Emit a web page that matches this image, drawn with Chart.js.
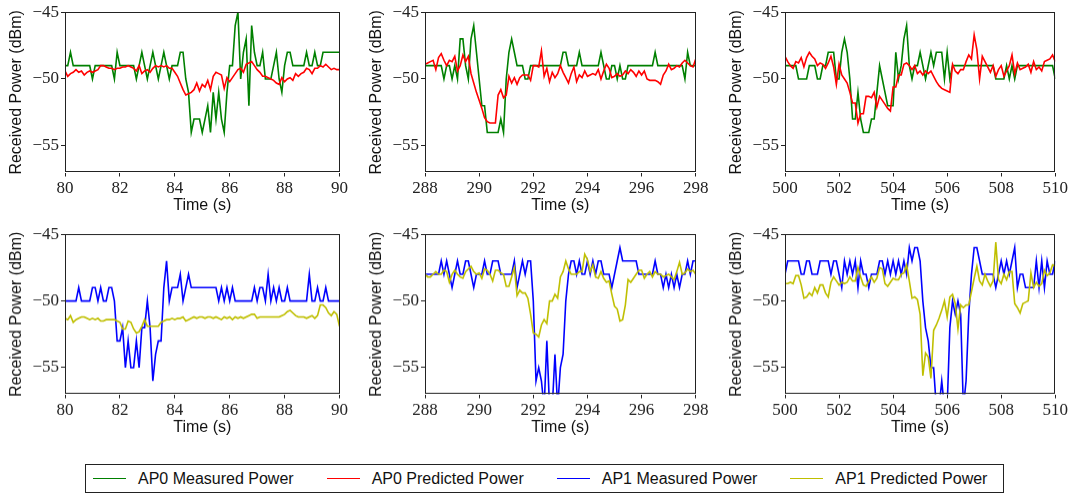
<!DOCTYPE html>
<html>
<head>
<meta charset="utf-8">
<script src="https://cdn.jsdelivr.net/npm/chart.js@4.4.1/dist/chart.umd.min.js"></script>
<style>
  html,body{margin:0;padding:0;background:#fff;}
  body{width:1075px;height:496px;position:relative;overflow:hidden;}
  .panel{position:absolute;}
  #legend{position:absolute;left:85px;top:464px;width:910px;height:27px;border:1px solid #222;
    display:flex;align-items:center;padding-left:7px;column-gap:33px;box-sizing:content-box;
    font-family:"Liberation Sans",Arial,sans-serif;font-size:16px;color:#111;}
  #legend .item{display:flex;align-items:center;}
  #legend .swatch{width:33px;height:0;border-top:1.5px solid;margin-right:12px;}
</style>
</head>
<body>
<div class="panel" id="p1"><canvas id="c1"></canvas></div>
<div class="panel" id="p2"><canvas id="c2"></canvas></div>
<div class="panel" id="p3"><canvas id="c3"></canvas></div>
<div class="panel" id="p4"><canvas id="c4"></canvas></div>
<div class="panel" id="p5"><canvas id="c5"></canvas></div>
<div class="panel" id="p6"><canvas id="c6"></canvas></div>
<div id="legend"></div>
<script>
/* ---------- data (0.1 s samples) ---------- */
const seriesNames = ['AP0 Measured Power','AP0 Predicted Power','AP1 Measured Power','AP1 Predicted Power'];
const seriesColors = ['#008000','#ff0000','#0000ff','#bfbf00'];
const yTicks = [-55,-50,-45];
const windowStarts = [80, 288, 500];   // seconds, each window is 10 s long

// top row: AP0
const ap0Meas80 = [-49,-49,-48,-49,-49,-49,-49,-49,-49,-49,
  -50,-49,-49,-49,-49,-49,-49,-49,-50,-48,
  -49,-49,-49,-49,-49,-49,-50,-49,-48,-49,
  -50,-49,-48,-49,-50,-49,-48,-49,-50,-49,
  -49,-49,-48,-48,-50,-51,-54,-53,-53,-53,
  -54,-53,-52,-54,-51,-53,-51,-53,-54,-51,
  -49,-49,-46,-45,-50,-48,-47,-52,-46,-48,
  -49,-49,-48,-50,-50,-50,-49,-48,-50,-51,
  -49,-48,-48,-49,-49,-49,-49,-49,-48,-49,
  -49,-48,-49,-49,-48,-48,-48,-48,-48,-48,-48];
const ap0Pred80 = [-49.4,-49.8,-49.6,-49.5,-49.3,-49.5,-49.4,-49.7,-49.5,-49.4,
  -49.5,-49.4,-49.3,-49.0,-49.0,-49.1,-49.2,-49.2,-49.3,-49.2,
  -49.2,-49.1,-49.1,-49.0,-49.1,-49.2,-49.4,-49.0,-49.6,-49.4,
  -49.3,-49.5,-49.2,-49.0,-49.1,-49.0,-49.1,-49.0,-49.2,-49.2,
  -49.5,-49.8,-50.3,-50.8,-51.2,-51.1,-51.0,-50.8,-50.3,-50.9,
  -50.4,-50.6,-50.1,-50.8,-49.8,-49.5,-49.6,-49.7,-50.7,-49.9,
  -50.2,-49.9,-49.6,-49.3,-49.2,-49.5,-48.9,-48.8,-48.7,-49.0,
  -49.3,-49.5,-49.8,-49.8,-49.9,-50.0,-50.1,-50.3,-50.4,-49.9,
  -50.2,-50.0,-49.9,-50.1,-49.6,-49.8,-49.6,-49.5,-49.2,-49.3,
  -49.6,-49.2,-49.2,-49.0,-49.1,-48.9,-49.1,-49.3,-49.2,-49.3,-49.3];

const ap0Meas288 = [-49,-49,-49,-49,-49,-49,-49,-50,-49,-49,
  -50,-49,-50,-47,-47,-49,-50,-47,-46,-48,
  -50,-52,-52,-54,-54,-54,-54,-54,-53,-54,
  -50,-48,-47,-48,-49,-49,-49,-50,-50,-49,
  -49,-49,-49,-49,-49,-49,-49,-49,-49,-49,
  -49,-48,-48,-49,-49,-49,-49,-48,-49,-49,
  -49,-49,-49,-49,-49,-48,-49,-50,-50,-49,
  -49,-50,-49,-50,-50,-49,-49,-49,-49,-49,
  -49,-49,-49,-49,-49,-48,-49,-49,-49,-49,
  -49,-49,-49,-49,-49,-49,-50,-48,-49,-49,-49];
const ap0Pred288 = [-48.9,-48.8,-48.7,-48.6,-49.3,-48.4,-48.1,-48.6,-49.0,-48.6,
  -48.7,-48.3,-49.4,-49.0,-48.2,-48.7,-48.3,-49.6,-50.3,-51.0,
  -51.6,-52.2,-52.9,-53.2,-53.3,-53.3,-53.3,-51.2,-50.8,-51.4,
  -51.2,-49.8,-50.3,-49.9,-50.4,-49.9,-49.7,-49.7,-49.7,-50.1,
  -49.0,-49.0,-49.1,-47.9,-49.8,-49.2,-50.2,-49.5,-49.9,-49.6,
  -49.0,-49.5,-49.9,-50.3,-49.6,-49.1,-50.2,-49.7,-49.9,-49.4,
  -49.8,-49.7,-49.6,-49.7,-49.3,-50.0,-49.4,-48.9,-49.2,-49.9,
  -49.8,-49.6,-49.8,-49.7,-49.4,-49.6,-49.3,-49.5,-49.8,-49.4,
  -49.7,-49.4,-50.0,-50.1,-50.1,-50.1,-50.2,-50.4,-49.7,-49.4,
  -48.9,-49.3,-49.2,-49.0,-49.1,-48.8,-48.6,-48.8,-49.0,-49.1,-48.5];

const ap0Meas500 = [-49,-49,-49,-49,-49,-50,-50,-50,-50,-49,
  -49,-49,-50,-50,-49,-49,-48,-48,-48,-50,
  -50,-48,-47,-48,-50,-53,-53,-51,-53,-54,
  -54,-54,-53,-53,-51,-49,-50,-51,-52,-52,
  -52,-48,-50,-49,-47,-46,-49,-50,-49,-49,
  -48,-49,-50,-49,-48,-49,-48,-48,-48,-50,
  -48,-50,-49,-49,-49,-49,-49,-49,-49,-49,
  -49,-49,-49,-49,-49,-49,-49,-49,-50,-50,
  -50,-50,-49,-50,-49,-50,-49,-49,-49,-49,
  -49,-49,-49,-49,-49,-49,-49,-49,-49,-49,-50];
const ap0Pred500 = [-48.3,-48.7,-49.0,-49.2,-48.7,-48.8,-48.4,-49.1,-48.4,-48.0,
  -48.3,-48.5,-49.0,-48.8,-48.9,-49.2,-48.8,-48.3,-49.1,-50.4,
  -48.9,-49.7,-50.0,-50.3,-51.0,-51.8,-51.8,-53.3,-52.6,-52.6,
  -51.3,-51.3,-51.4,-51.0,-52.1,-51.3,-51.6,-51.9,-52.2,-52.4,
  -50.6,-50.6,-49.7,-49.7,-48.9,-48.8,-49.0,-49.3,-49.0,-49.6,
  -49.4,-49.7,-49.4,-49.6,-49.4,-49.8,-50.2,-50.5,-50.7,-50.8,
  -50.9,-51.0,-48.9,-49.4,-49.6,-49.3,-49.3,-48.7,-48.2,-48.5,
  -46.7,-47.8,-50.0,-48.3,-48.7,-49.1,-49.5,-49.0,-49.8,-49.3,
  -49.0,-49.8,-49.4,-49.0,-48.2,-49.6,-48.8,-49.3,-49.2,-49.1,
  -48.9,-49.5,-48.7,-49.3,-49.1,-49.4,-48.7,-48.6,-48.5,-48.2,-48.7];

// bottom row: AP1
const ap1Meas80 = [-50,-50,-50,-50,-50,-49,-50,-50,-50,-50,
  -49,-49,-50,-49,-50,-50,-49,-49,-50,-53,
  -53,-52,-55,-53,-55,-55,-53,-55,-52,-52,
  -50,-52,-56,-54,-53,-53,-49,-47,-50,-49,
  -49,-49,-48,-50,-49,-48,-49,-49,-49,-49,
  -49,-49,-49,-49,-49,-49,-50,-49,-50,-49,
  -50,-49,-50,-50,-50,-50,-50,-50,-50,-49,
  -50,-49,-49,-50,-48,-50,-49,-50,-49,-50,
  -50,-49,-50,-50,-50,-50,-50,-50,-50,-48,
  -50,-50,-49,-50,-50,-49,-50,-50,-50,-50,-50];
const ap1Pred80 = [-51.3,-51.4,-51.1,-51.6,-51.4,-51.3,-51.2,-51.2,-51.3,-51.4,
  -51.3,-51.4,-51.3,-51.5,-51.5,-51.4,-51.4,-51.4,-51.4,-51.5,
  -51.6,-52.1,-52.1,-51.5,-51.6,-52.1,-52.4,-52.3,-51.9,-51.4,
  -51.9,-51.9,-51.9,-51.9,-51.9,-51.6,-51.5,-51.4,-51.4,-51.3,
  -51.4,-51.3,-51.3,-51.2,-51.5,-51.4,-51.3,-51.2,-51.3,-51.2,
  -51.2,-51.3,-51.2,-51.2,-51.3,-51.2,-51.3,-51.4,-51.2,-51.3,
  -51.2,-51.4,-51.2,-51.3,-51.2,-51.3,-51.2,-51.1,-51.0,-51.0,
  -51.3,-51.2,-51.2,-51.2,-51.2,-51.2,-51.2,-51.2,-51.2,-51.1,
  -51.0,-50.8,-50.7,-50.9,-51.1,-51.2,-51.2,-51.2,-51.3,-51.2,
  -51.1,-51.3,-51.1,-50.3,-50.3,-50.5,-50.9,-51.1,-50.8,-51.0,-51.9];

const ap1Meas288 = [-48,-48,-48,-48,-48,-48,-47,-48,-47,-48,
  -49,-48,-47,-48,-48,-47,-47,-48,-49,-48,
  -48,-48,-47,-48,-48,-47,-47,-47,-48,-48,
  -48,-48,-48,-47,-49,-48,-47,-48,-47,-47,
  -50,-56,-55,-56,-58,-53,-58,-58,-54,-58,
  -55,-54,-50,-48,-47,-47,-48,-47,-48,-48,
  -47,-48,-47,-48,-47,-47,-48,-48,-48,-49,
  -48,-47,-46,-47,-47,-47,-47,-47,-47,-48,
  -48,-48,-48,-48,-48,-47,-48,-48,-49,-48,
  -49,-48,-49,-48,-49,-48,-48,-47,-48,-47,-47];
const ap1Pred288 = [-48.0,-48.2,-48.2,-48.0,-47.8,-48.0,-48.0,-47.7,-47.8,-48.6,
  -48.0,-47.7,-48.0,-48.2,-48.3,-47.8,-47.6,-47.4,-47.8,-48.0,
  -47.9,-48.3,-47.6,-47.7,-48.0,-48.5,-47.7,-47.7,-47.9,-48.0,
  -48.9,-48.9,-48.2,-47.5,-49.6,-49.2,-49.4,-49.4,-49.8,-51.0,
  -52.4,-52.5,-52.7,-51.8,-51.4,-51.7,-50.0,-50.0,-49.5,-49.8,
  -48.2,-47.8,-47.0,-47.6,-48.0,-48.0,-48.0,-47.8,-47.8,-46.5,
  -46.9,-47.8,-47.3,-48.2,-48.3,-47.8,-48.3,-48.6,-48.5,-49.5,
  -50.4,-50.6,-51.5,-51.4,-50.3,-48.4,-48.6,-48.3,-48.0,-47.7,
  -47.7,-48.3,-48.0,-47.8,-48.2,-47.8,-48.0,-48.0,-48.2,-48.1,
  -48.0,-48.2,-48.4,-47.8,-47.1,-48.0,-47.9,-47.6,-47.8,-47.7,-48.0];

const ap1Meas500 = [-48,-47,-47,-47,-47,-47,-48,-48,-47,-47,
  -48,-48,-48,-47,-47,-47,-47,-48,-47,-47,
  -48,-49,-47,-48,-47,-48,-47,-49,-47,-48,
  -48,-49,-48,-48,-48,-47,-47,-48,-47,-48,
  -47,-48,-47,-48,-47,-48,-46,-47,-46,-46,
  -47,-50,-52,-53,-55,-55,-58,-58,-56,-58,
  -58,-52,-50,-51,-50,-51,-58,-56,-51,-48,
  -46,-46,-47,-48,-48,-48,-48,-48,-49,-48,
  -47,-48,-47,-48,-47,-46,-49,-48,-48,-49,
  -49,-49,-49,-47,-49,-47,-49,-47,-48,-48,-47];
const ap1Pred500 = [-48.7,-48.7,-48.6,-48.7,-48.1,-48.1,-48.8,-49.8,-49.7,-49.4,
  -49.6,-49.0,-49.4,-48.8,-48.8,-49.4,-49.7,-48.6,-48.2,-48.5,
  -48.8,-48.6,-48.7,-48.6,-48.2,-48.5,-48.5,-47.5,-48.2,-48.8,
  -48.9,-48.5,-48.2,-48.6,-48.3,-47.5,-47.6,-48.7,-48.9,-48.6,
  -48.3,-48.4,-48.4,-48.0,-47.9,-47.3,-48.5,-49.8,-49.7,-49.9,
  -51.0,-55.6,-53.9,-54.2,-55.8,-52.2,-51.8,-51.3,-50.7,-50.0,
  -51.2,-49.7,-49.5,-50.2,-52.1,-50.3,-50.5,-50.3,-50.3,-49.3,
  -48.3,-47.4,-48.5,-48.8,-48.0,-48.5,-48.9,-48.5,-45.6,-48.4,
  -48.7,-48.0,-48.4,-47.8,-47.8,-50.2,-50.5,-50.9,-50.2,-50.1,
  -50.0,-47.9,-49.0,-48.6,-48.9,-48.7,-47.7,-48.1,-47.9,-47.3,-47.4];

/* ---------- layout of the six axes boxes (plot area in page px) ---------- */
const colLeft = [65, 424.5, 784.5];
const colRight = [340, 700, 1059.5];
const rowTop = [7.5, 230];
const rowBottom = [172, 393.5];
const Y_W = 60, X_H = 46, PAD_T = 8, PAD_R = 10;

function pts(start, vals){
  return vals.map((v,i)=>({x: Math.round((start + i*0.1)*10)/10, y: v}));
}

// frame around plot area (matplotlib box)
const framePlugin = {
  id:'frame',
  afterDatasetsDraw(chart){
    const a = chart.chartArea, ctx = chart.ctx;
    ctx.save();
    ctx.strokeStyle = '#222';
    ctx.lineWidth = 1;
    ctx.strokeRect(Math.round(a.left)+0.5, Math.round(a.top)+0.5,
      Math.round(a.right-a.left)-1, Math.round(a.bottom-a.top)-1);
    ctx.restore();
  }
};

function makePanel(id, start, sets){
  const ctx = document.getElementById(id);
  return new Chart(ctx.getContext('2d'), {
    type:'line',
    data:{
      // predicted series drawn over measured, like the original plot
      datasets: sets.map((s,i)=>({
        label: s.name,
        data: pts(start, s.vals),
        borderColor: s.color,
        borderWidth: 1.6,
        pointRadius: 0,
        tension: 0,
        fill: false,
        order: sets.length - i
      }))
    },
    options:{
      responsive:true,
      maintainAspectRatio:false,
      animation:false,
      layout:{padding:{top:PAD_T, right:PAD_R, left:0, bottom:0}},
      plugins:{legend:{display:false}, tooltip:{enabled:false}},
      scales:{
        x:{
          type:'linear', min:start, max:start+10,
          border:{display:false},
          grid:{drawOnChartArea:false, drawTicks:true, tickLength:4, color:'#222'},
          ticks:{stepSize:2, padding:2, color:'#222', maxRotation:0,
            font:{family:'"Liberation Serif", "DejaVu Serif", serif', size:17}},
          title:{display:true, text:'Time (s)', color:'#111', padding:{top:0,bottom:3},
            font:{family:'"Liberation Sans", Arial, sans-serif', size:16}},
          afterFit: sc=>{ sc.height = X_H; }
        },
        y:{
          min:-57, max:-45,
          border:{display:false},
          grid:{drawOnChartArea:false, drawTicks:true, tickLength:4, color:'#222'},
          afterBuildTicks: sc=>{ sc.ticks = yTicks.map(v=>({value:v})); },
          ticks:{padding:2, color:'#222',
            callback: v => (v<0 ? '\u2212' : '') + Math.abs(v),
            font:{family:'"Liberation Serif", "DejaVu Serif", serif', size:17}},
          title:{display:true, text:'Received Power (dBm)', color:'#111', padding:{top:2,bottom:0},
            font:{family:'"Liberation Sans", Arial, sans-serif', size:16}},
          afterFit: sc=>{ sc.width = Y_W; }
        }
      }
    },
    plugins:[framePlugin]
  });
}

const topSets = [
  [ap0Meas80, ap0Pred80], [ap0Meas288, ap0Pred288], [ap0Meas500, ap0Pred500]
];
const botSets = [
  [ap1Meas80, ap1Pred80], [ap1Meas288, ap1Pred288], [ap1Meas500, ap1Pred500]
];

[topSets, botSets].forEach((row, r)=>{
  row.forEach((pair, c)=>{
    const n = r*3 + c + 1;
    const div = document.getElementById('p'+n);
    div.style.left = (colLeft[c] - Y_W) + 'px';
    div.style.top = (rowTop[r] - PAD_T) + 'px';
    div.style.width = (colRight[c] - colLeft[c] + Y_W + PAD_R) + 'px';
    div.style.height = (rowBottom[r] - rowTop[r] + PAD_T + X_H) + 'px';
    const k = r*2;
    makePanel('c'+n, windowStarts[c], [
      {name:seriesNames[k], color:seriesColors[k], vals:pair[0]},
      {name:seriesNames[k+1], color:seriesColors[k+1], vals:pair[1]}
    ]);
  });
});

/* ---------- shared legend ---------- */
const leg = document.getElementById('legend');
seriesNames.forEach((name,i)=>{
  const it = document.createElement('div');
  it.className = 'item';
  it.innerHTML = '<span class="swatch" style="border-color:'+seriesColors[i]+'"></span><span>'+name+'</span>';
  leg.appendChild(it);
});
</script>
</body>
</html>
